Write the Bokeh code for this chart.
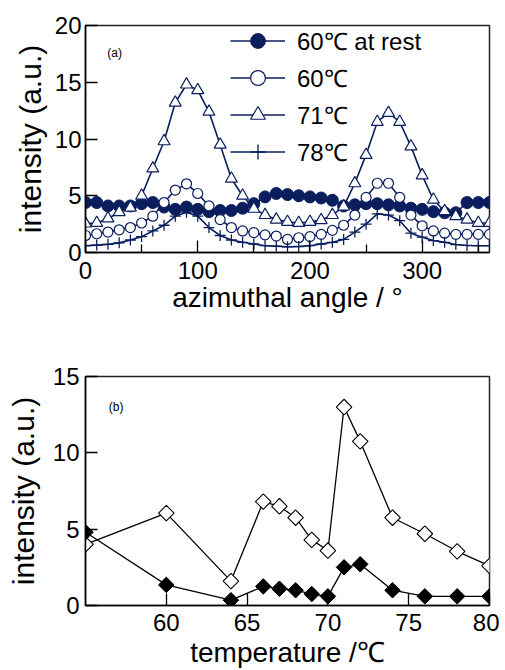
import numpy as np
from bokeh.plotting import figure
from bokeh.layouts import column
from bokeh.models import Legend, LegendItem, Label, FixedTicker, Range1d
from bokeh.embed import file_html
from bokeh.resources import INLINE

# ---------------- data: panel (a) ----------------
angle = list(range(0, 361, 10))
rest60 = [4.4, 4.4, 4.1, 4.1, 4.1, 4.3, 4.4, 4.0, 3.8, 4.0, 3.8, 3.6, 3.7, 3.7, 3.9, 4.3,
          4.9, 5.2, 5.1, 5.0, 4.9, 4.8, 4.6, 4.1, 4.2, 4.3, 4.3, 4.2, 4.1, 3.9, 3.8, 3.6,
          3.5, 3.5, 4.4, 4.4, 4.4]
t60 = [1.5, 1.65, 1.8, 2.0, 2.2, 2.6, 3.2, 4.4, 5.5, 6.05, 5.2, 4.1, 2.9, 2.2, 1.9, 1.75,
       1.55, 1.45, 1.15, 1.3, 1.4, 1.6, 1.95, 2.4, 3.3, 4.85, 6.1, 6.1, 4.85, 3.3, 2.35, 1.9,
       1.7, 1.6, 1.6, 1.6, 1.6]
t71 = [2.55, 2.6, 3.0, 3.55, 3.95, 5.0, 7.4, 9.8, 13.2, 14.8, 14.3, 12.4, 9.5, 6.5, 5.0, 3.85,
       3.3, 2.9, 2.7, 2.6, 2.7, 2.85, 3.3, 4.05, 6.1, 8.6, 11.5, 12.3, 11.5, 9.35, 6.8, 4.65,
       3.64, 3.2, 2.9, 2.6, 2.6]
t78 = [0.6, 0.65, 0.72, 0.85, 1.1, 1.4, 1.9, 2.4, 3.2, 3.55, 3.2, 2.2, 1.5, 1.1, 0.9, 0.75,
       0.6, 0.55, 0.5, 0.53, 0.6, 0.75, 0.9, 1.15, 1.8, 2.5, 3.4, 3.3, 2.8, 1.7, 1.35, 1.05,
       0.9, 0.7, 0.62, 0.6, 0.6]
labels_a = ["60℃ at rest", "60℃", "71℃", "78℃"]

# ---------------- data: panel (b) ----------------
temperature = [55, 60, 64, 66, 67, 68, 69, 70, 71, 72, 74, 76, 78, 80]
open_int = [4.0, 6.05, 1.6, 6.8, 6.5, 5.75, 4.3, 3.6, 13.0, 10.75, 5.75, 4.7, 3.55, 2.6]
filled_int = [4.8, 1.35, 0.35, 1.25, 1.1, 1.0, 0.75, 0.6, 2.5, 2.7, 1.0, 0.6, 0.6, 0.6]

NAVY = "#0a1e5e"
FONT = "Liberation Sans"


def style_axes(p):
    p.xgrid.visible = False
    p.ygrid.visible = False
    p.outline_line_color = "#222222"
    p.outline_line_width = 1.5
    for ax in (p.xaxis[0], p.yaxis[0]):
        ax.axis_line_color = "black"
        ax.axis_line_width = 1.5
        ax.major_tick_line_color = "black"
        ax.major_tick_line_width = 1.3
        ax.major_tick_in = 12
        ax.major_tick_out = 0
        ax.minor_tick_line_color = "black"
        ax.minor_tick_line_width = 1.3
        ax.minor_tick_in = 8
        ax.minor_tick_out = 0
        ax.major_label_text_font = FONT
        ax.major_label_text_font_size = "24px"
        ax.major_label_text_color = "black"
        ax.axis_label_text_font = FONT
        ax.axis_label_text_font_style = "normal"
        ax.axis_label_text_color = "black"
    p.xaxis.axis_label_text_font_size = "28px"
    p.yaxis.axis_label_text_font_size = "30px"
    p.xaxis.major_label_standoff = 9


# ---------------- panel (a) ----------------
p1 = figure(width=499, height=338, x_range=Range1d(0, 360), y_range=Range1d(0, 20),
            output_backend="svg", toolbar_location=None,
            min_border_left=85, min_border_right=2, min_border_top=25, min_border_bottom=86,
            x_axis_label="azimuthal angle / °", y_axis_label="intensity (a.u.)")
style_axes(p1)
p1.yaxis.major_label_standoff = 4
p1.xaxis.axis_label_standoff = 0
p1.yaxis.axis_label_standoff = 5
p1.xaxis.ticker = FixedTicker(ticks=[0, 100, 200, 300], minor_ticks=[50, 150, 250, 350])
p1.yaxis.ticker = FixedTicker(ticks=[0, 5, 10, 15, 20], minor_ticks=[])

lw = 1.6
l1 = p1.line(angle, rest60, line_color=NAVY, line_width=lw)
s1 = p1.scatter(angle, rest60, marker="circle", size=12, fill_color=NAVY, line_color=NAVY)
l2 = p1.line(angle, t60, line_color=NAVY, line_width=lw)
s2 = p1.scatter(angle, t60, marker="circle", size=10, fill_color="white", line_color=NAVY, line_width=1.2)
l3 = p1.line(angle, t71, line_color=NAVY, line_width=lw)
s3 = p1.scatter(angle, t71, marker="triangle", size=12, fill_color="white", line_color=NAVY, line_width=1.2)
l4 = p1.line(angle, t78, line_color=NAVY, line_width=lw)
s4 = p1.scatter(angle, t78, marker="cross", size=11, line_color=NAVY, line_width=1.3)

legend = Legend(items=[LegendItem(label=labels_a[0], renderers=[l1, s1]),
                       LegendItem(label=labels_a[1], renderers=[l2, s2]),
                       LegendItem(label=labels_a[2], renderers=[l3, s3]),
                       LegendItem(label=labels_a[3], renderers=[l4, s4])],
                location=(145, 82), glyph_width=55, glyph_height=37, label_height=37,
                label_standoff=12, spacing=0, padding=0, margin=0,
                border_line_color=None, background_fill_alpha=0,
                label_text_font=FONT, label_text_font_size="24px", label_text_color="black")
p1.add_layout(legend)
p1.add_layout(Label(x=26, y=17.6, text="(a)", text_font=FONT, text_font_size="12px",
                    text_align="center", text_baseline="middle", text_color="black"))

# ---------------- panel (b) ----------------
p2 = figure(width=499, height=332, x_range=Range1d(55, 80), y_range=Range1d(0, 15),
            output_backend="svg", toolbar_location=None,
            min_border_left=78, min_border_right=10, min_border_top=38, min_border_bottom=65,
            x_axis_label="temperature /℃", y_axis_label="intensity (a.u.)")
style_axes(p2)
p2.xaxis.major_label_standoff = 8
p2.yaxis.major_label_standoff = 6
p2.xaxis.axis_label_standoff = 3
p2.yaxis.axis_label_standoff = 10
p2.xaxis.ticker = FixedTicker(ticks=[60, 65, 70, 75, 80], minor_ticks=[])
p2.yaxis.ticker = FixedTicker(ticks=[0, 5, 10, 15], minor_ticks=[])

p2.line(temperature, open_int, line_color="black", line_width=1.3)
p2.scatter(temperature, open_int, marker="square", angle=np.pi / 4, size=11,
           fill_color="white", line_color="black", line_width=1.1)
p2.line(temperature, filled_int, line_color="black", line_width=1.3)
p2.scatter(temperature, filled_int, marker="square", angle=np.pi / 4, size=11,
           fill_color="black", line_color="black")
p2.add_layout(Label(x=56.9, y=13.0, text="(b)", text_font=FONT, text_font_size="12px",
                    text_align="center", text_baseline="middle", text_color="black"))

layout = column(p1, p2, spacing=0)
open("out.html", "w").write(file_html(layout, INLINE))
